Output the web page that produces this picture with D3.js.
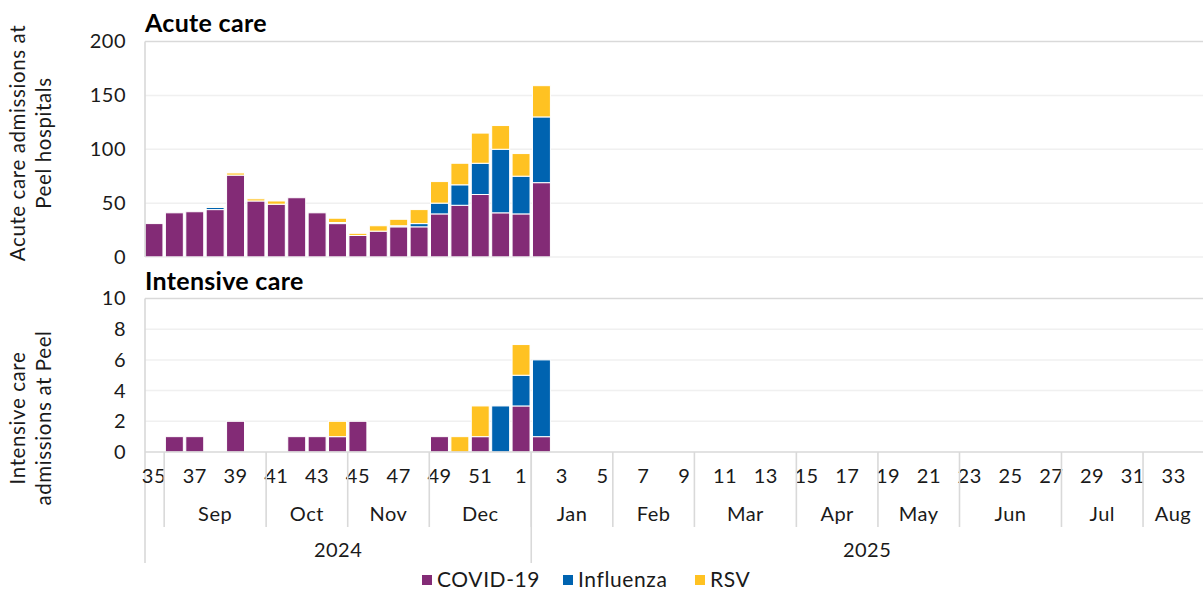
<!DOCTYPE html>
<html>
<head>
<meta charset="utf-8">
<script src="https://cdn.jsdelivr.net/npm/d3@7"></script>
<style>
  html, body { margin: 0; padding: 0; background: #fff; }
  svg { display: block; font-family: Lato, "Open Sans", sans-serif; }
</style>
</head>
<body>
<svg id="chart" width="1203" height="590"></svg>
<script>
// ---------------- DATA ----------------
const weekNumbers = [35,36,37,38,39,40,41,42,43,44,45,46,47,48,49,50,51,52,
  1,2,3,4,5,6,7,8,9,10,11,12,13,14,15,16,17,18,19,20,21,22,23,24,25,26,27,28,29,30,31,32,33,34];

const seriesNames = ["COVID-19", "Influenza", "RSV"];

const covidAcute     = [31,41,42,44,76,52,49,55,41,31,20,24,28,28,40,48,58,41,40,69];
const influenzaAcute = [ 0, 0, 0, 2, 0, 0, 0, 0, 0, 1, 0, 0, 1, 3,10,19,29,59,35,61];
const rsvAcute       = [ 0, 0, 0, 1, 2, 2, 3, 0, 0, 4, 2, 5, 6,13,20,20,28,22,21,29];

const covidICU     = [0,1,1,0,2,0,0,1,1,1,2,0,0,0,1,0,1,0,3,1];
const influenzaICU = [0,0,0,0,0,0,0,0,0,0,0,0,0,0,0,0,0,3,2,5];
const rsvICU       = [0,0,0,0,0,0,0,0,0,1,0,0,0,0,0,1,2,0,2,0];

const monthLabels = ["", "Sep", "Oct", "Nov", "Dec", "Jan", "Feb", "Mar", "Apr", "May", "Jun", "Jul", "Aug"];
const monthWeekCounts = [1, 5, 4, 4, 5, 4, 4, 5, 4, 4, 5, 4, 3];
const yearLabels = ["2024", "2025"];
const yearWeekCounts = [19, 33];

const acuteTicks = [0, 50, 100, 150, 200];
const icuTicks = [0, 2, 4, 6, 8, 10];

// ---------------- STYLE ----------------
const colors = ["#832B76", "#0063B0", "#FFC222"];
const textColor = "#1a1a1a";
const borderColor = "#D9D9D9";
const gridColor = "#F0F0F0";
const labelSize = 20, labelSpacing = 0.5;

const svg = d3.select("#chart");
const xLeft = 145, xRight = 1203;

const keys = weekNumbers.map((w, i) => i);
const x = d3.scaleBand().domain(keys).range([xLeft, xRight]).paddingInner(0.12).paddingOuter(0);
const step = x.step();
const gapHalf = (step - x.bandwidth()) / 2;

function buildRows(a, b, c) {
  return a.map((v, i) => ({ idx: i, "COVID-19": v, "Influenza": b[i], "RSV": c[i] }));
}

function drawPanel(opts) {
  const { top, bottom, max, ticks, rows, title, titleY, yTitle, yTitleY } = opts;
  const y = d3.scaleLinear().domain([0, max]).range([bottom, top]);
  const g = svg.append("g");

  g.selectAll("line.grid").data(ticks.filter(t => t > 0 && t < max)).join("line")
    .attr("x1", xLeft).attr("x2", xRight)
    .attr("y1", d => y(d)).attr("y2", d => y(d))
    .attr("stroke", gridColor).attr("stroke-width", 1.5);

  g.append("line").attr("x1", xLeft).attr("x2", xRight)
    .attr("y1", y(max)).attr("y2", y(max))
    .attr("stroke", borderColor).attr("stroke-width", 1.6);

  const stack = d3.stack().keys(seriesNames)(rows);
  stack.forEach((layer, si) => {
    g.append("g").selectAll("rect").data(layer.filter(d => d[1] - d[0] > 0)).join("rect")
      .attr("x", d => x(d.data.idx))
      .attr("width", x.bandwidth())
      .attr("y", d => y(d[1]))
      .attr("height", d => y(d[0]) - y(d[1]))
      .attr("fill", colors[si])
      .attr("stroke", "#fff").attr("stroke-width", 1);
  });

  const yAxis = d3.axisLeft(y).tickValues(ticks).tickSize(0).tickPadding(0);
  const ga = g.append("g").attr("transform", `translate(${xLeft - 19},0)`).call(yAxis);
  ga.select(".domain").remove();
  ga.selectAll("text").attr("font-size", labelSize).attr("letter-spacing", labelSpacing)
    .attr("fill", textColor).attr("font-family", "Lato, sans-serif");

  g.append("text").attr("x", xLeft).attr("y", titleY)
    .attr("font-size", 25).attr("font-weight", "bold").attr("letter-spacing", 0.3)
    .attr("fill", "#000").text(title);

  const yt = g.append("text")
    .attr("transform", `translate(25,${yTitleY}) rotate(-90)`)
    .attr("text-anchor", "middle").attr("font-size", 20.5).attr("letter-spacing", 0.6)
    .attr("fill", textColor);
  yt.append("tspan").attr("x", 0).attr("dy", 0).text(yTitle[0]);
  yt.append("tspan").attr("x", 0).attr("dy", 26).text(yTitle[1]);
  return y;
}

drawPanel({
  top: 41.5, bottom: 257, max: 200, ticks: acuteTicks,
  rows: buildRows(covidAcute, influenzaAcute, rsvAcute),
  title: "Acute care", titleY: 31.5,
  yTitle: ["Acute care admissions at", "Peel hospitals"], yTitleY: 143
});
svg.append("line").attr("x1", xLeft).attr("x2", xRight).attr("y1", 257).attr("y2", 257)
  .attr("stroke", "#E8E8E8").attr("stroke-width", 1.2);
svg.append("line").attr("x1", xLeft).attr("x2", xLeft).attr("y1", 41.5).attr("y2", 257)
  .attr("stroke", borderColor).attr("stroke-width", 1.6);

drawPanel({
  top: 298.5, bottom: 452, max: 10, ticks: icuTicks,
  rows: buildRows(covidICU, influenzaICU, rsvICU),
  title: "Intensive care", titleY: 290,
  yTitle: ["Intensive care", "admissions at Peel"], yTitleY: 418
});
svg.append("line").attr("x1", xLeft).attr("x2", xRight).attr("y1", 452).attr("y2", 452)
  .attr("stroke", borderColor).attr("stroke-width", 1.6);
svg.append("line").attr("x1", xLeft).attr("x2", xLeft).attr("y1", 298.5).attr("y2", 563)
  .attr("stroke", borderColor).attr("stroke-width", 1.6);

// ---------------- MULTI-LEVEL X AXIS ----------------
const xAxis = svg.append("g");
xAxis.selectAll("text.week").data(keys.filter(i => weekNumbers[i] % 2 === 1)).join("text")
  .attr("x", i => x(i) + x.bandwidth() / 2)
  .attr("y", 482.5)
  .attr("text-anchor", "middle").attr("font-size", labelSize).attr("letter-spacing", labelSpacing)
  .attr("fill", textColor)
  .text(i => weekNumbers[i]);

function boundary(i) { return i >= weekNumbers.length ? xRight : x(i) - gapHalf; }
function groupStart(i) { return i === 0 ? xLeft : boundary(i); }

let acc = 0;
const monthGroups = monthLabels.map((m, k) => {
  const s = acc; acc += monthWeekCounts[k];
  return { label: m, start: s, end: acc };
});
xAxis.selectAll("line.month").data(monthGroups.slice(1)).join("line")
  .attr("x1", d => boundary(d.start)).attr("x2", d => boundary(d.start))
  .attr("y1", 452).attr("y2", 527)
  .attr("stroke", borderColor).attr("stroke-width", 1.6);
xAxis.selectAll("text.month").data(monthGroups).join("text")
  .attr("x", d => (groupStart(d.start) + boundary(d.end)) / 2)
  .attr("y", 521)
  .attr("text-anchor", "middle").attr("font-size", labelSize).attr("letter-spacing", labelSpacing)
  .attr("fill", textColor)
  .text(d => d.label);

acc = 0;
const yearGroups = yearLabels.map((yl, k) => {
  const s = acc; acc += yearWeekCounts[k];
  return { label: yl, start: s, end: acc };
});
xAxis.selectAll("line.year").data(yearGroups.slice(1)).join("line")
  .attr("x1", d => boundary(d.start)).attr("x2", d => boundary(d.start))
  .attr("y1", 452).attr("y2", 563)
  .attr("stroke", borderColor).attr("stroke-width", 1.6);
xAxis.selectAll("text.year").data(yearGroups).join("text")
  .attr("x", d => (groupStart(d.start) + boundary(d.end)) / 2)
  .attr("y", 557)
  .attr("text-anchor", "middle").attr("font-size", labelSize).attr("letter-spacing", labelSpacing)
  .attr("fill", textColor)
  .text(d => d.label);

// ---------------- LEGEND ----------------
const legendX = [422, 563, 695];
const legend = svg.append("g");
seriesNames.forEach((n, i) => {
  legend.append("rect").attr("x", legendX[i]).attr("y", 575).attr("width", 10).attr("height", 10)
    .attr("fill", colors[i]);
  legend.append("text").attr("x", legendX[i] + 15).attr("y", 586.5)
    .attr("font-size", 21).attr("letter-spacing", 0.6).attr("fill", textColor).text(n);
});
</script>
</body>
</html>
